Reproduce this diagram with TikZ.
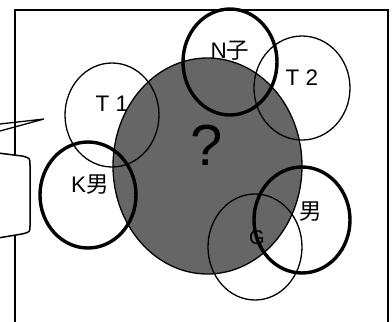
\documentclass[tikz,border=0pt]{standalone}
\usepackage{fontspec}
\usetikzlibrary{shapes.geometric}
\setmainfont{Liberation Sans}
\newfontfamily\jp{Noto Sans CJK JP}
\tikzset{
  thin ring/.style={draw=black, line width=1.3pt},
  thick ring/.style={draw=black, line width=3.4pt},
  lab/.style={font=\fontsize{22.5}{22.5}\selectfont, inner sep=0pt},
}
\begin{document}
\begin{tikzpicture}[x=1pt,y=-1pt]
\useasboundingbox (0,0) rectangle (392,322);
\fill[white] (0,0) rectangle (392,322);
% frame
\draw[line width=2pt] (15,325) -- (15,9.5) -- (388,9.5) -- (388,325);
% pointer
\coordinate (tip) at (44,119);
\coordinate (p1) at (0,124);
\coordinate (p2) at (0,131);
\draw[line width=1.3pt] (p1) -- (tip) -- (p2);
% bubble
\draw[line width=1.5pt, fill=white] (-2,153) -- (22,156) .. controls (30,158) .. (30,165) -- (30,226) .. controls (30,232) .. (22,234) -- (-2,238);
% big gray circle
\node[ellipse, minimum width=189pt, minimum height=216pt, inner sep=0pt, draw=black, line width=1.3pt, fill=black!60] (big) at (207.5,166) {};
\node[font=\fontsize{58}{58}\selectfont, text=black, inner sep=0pt] (q) at (207,145) {?};
% thin circles
\draw[thin ring] (112,115) ellipse (47 and 52);
\draw[thin ring] (302,88) ellipse (48 and 52);
\draw[thin ring] (255,247) ellipse (47 and 53);
% labels
\node[lab] (t1) at (112,104) {T 1};
\node[lab] (t2) at (302,78) {T 2};
\node[lab] (nk) at (230,51) {N{\jp 子}};
\node[lab] (km) at (90,185) {K{\jp 男}};
\node[lab] (m) at (311,212) {\jp 男};
\node[lab, font=\fontsize{20}{20}\selectfont] (g) at (257,238) {G};
% thick circles
\draw[thick ring] (230,62) ellipse (47 and 53);
\draw[thick ring] (88,195) ellipse (48 and 53);
\draw[thick ring] (302,220) ellipse (48 and 53);
\end{tikzpicture}
\end{document}
